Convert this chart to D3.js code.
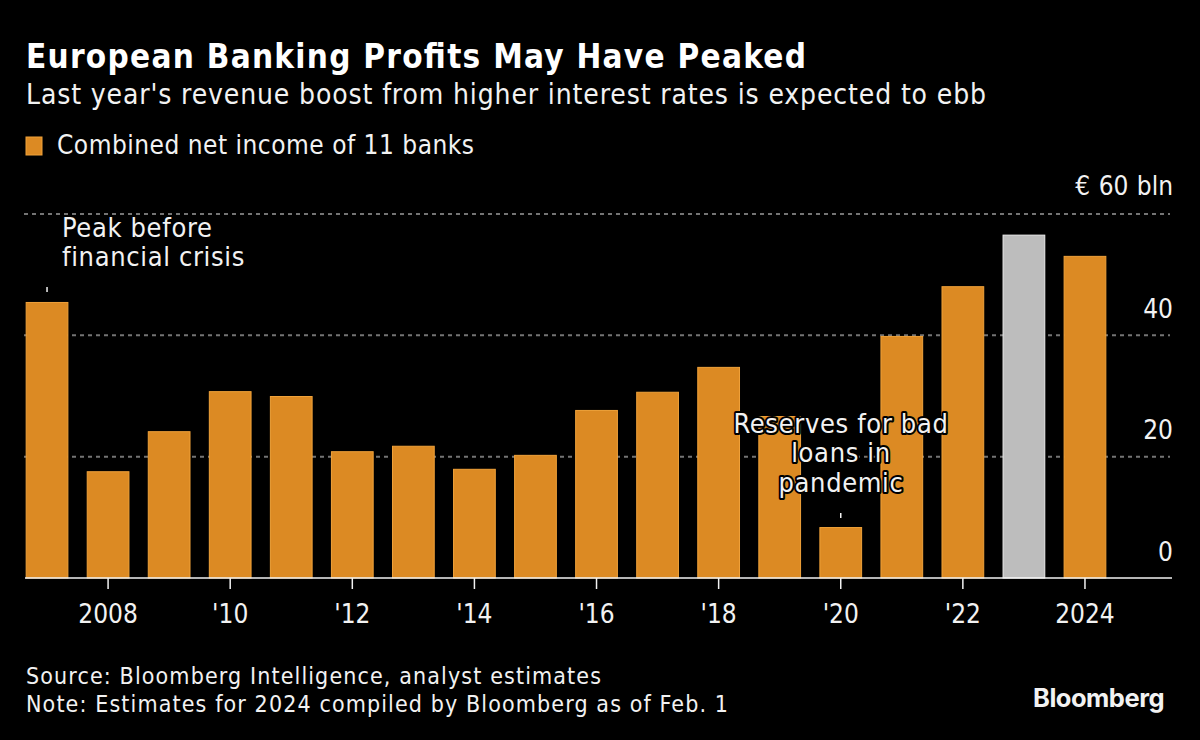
<!DOCTYPE html>
<html>
<head>
<meta charset="utf-8">
<script src="https://cdn.jsdelivr.net/npm/d3@7"></script>
<style>
  html, body { margin: 0; background: #000; }
  text { font-family: "DejaVu Sans Condensed", "DejaVu Sans", sans-serif; font-stretch: condensed; fill: #f2f2f2; }
</style>
</head>
<body>
<div id="chart"></div>
<script>
const years = [2007, 2008, 2009, 2010, 2011, 2012, 2013, 2014, 2015, 2016, 2017, 2018, 2019, 2020, 2021, 2022, 2023, 2024];
const netIncome = [45.5, 17.6, 24.2, 30.8, 30, 20.9, 21.8, 18, 20.3, 27.7, 30.7, 34.8, 26.7, 8.4, 39.9, 48.1, 56.6, 53.1];
const highlightYear = 2023;
const yTicks = [0, 20, 40, 60];
const xTicks = [2008, 2010, 2012, 2014, 2016, 2018, 2020, 2022, 2024];
const xTickLabels = ['2008', "'10", "'12", "'14", "'16", "'18", "'20", "'22", '2024'];

const width = 1200, height = 740;
const svg = d3.select('#chart').append('svg')
    .attr('width', width).attr('height', height)
    .style('display', 'block');

const x = d3.scaleBand().domain(years).range([16.5, 1115.5]).paddingInner(0.3).paddingOuter(0.15);
const y = d3.scaleLinear().domain([0, 60]).range([578, 214]);
const plotRight = 1172;

// gridlines
svg.append('g').selectAll('line').data(yTicks.slice(1)).enter()
    .append('line')
    .attr('x1', 24).attr('x2', 1170)
    .attr('y1', d => y(d)).attr('y2', d => y(d))
    .attr('stroke', '#747474').attr('stroke-width', 2)
    .attr('stroke-dasharray', '4 4');

// bars
svg.append('g').selectAll('rect').data(years).enter()
    .append('rect')
    .attr('x', d => x(d) + 0.5)
    .attr('width', x.bandwidth() - 1)
    .attr('y', (d, i) => y(netIncome[i]) + 0.5)
    .attr('height', (d, i) => y(0) - y(netIncome[i]) - 0.5)
    .attr('fill', d => d === highlightYear ? '#bdbdbd' : '#dc8a23')
    .attr('stroke', d => d === highlightYear ? '#ececec' : '#f0a23a')
    .attr('stroke-width', 1);

// baseline + x ticks
svg.append('line').attr('x1', 25).attr('x2', plotRight)
    .attr('y1', y(0)).attr('y2', y(0))
    .attr('stroke', '#f2f2f2').attr('stroke-width', 1.5);

const center = d => x(d) + x.bandwidth() / 2;
svg.append('g').selectAll('line').data(xTicks).enter()
    .append('line')
    .attr('x1', center).attr('x2', center)
    .attr('y1', y(0)).attr('y2', y(0) + 11)
    .attr('stroke', '#f2f2f2').attr('stroke-width', 1.5);

svg.append('g').selectAll('text').data(xTicks).enter()
    .append('text')
    .attr('x', center).attr('y', 623)
    .attr('text-anchor', 'middle')
    .attr('font-size', 26)
    .text((d, i) => xTickLabels[i]);

// y labels
svg.append('g').selectAll('text').data(yTicks.slice(0, 3)).enter()
    .append('text')
    .attr('x', 1173).attr('y', d => y(d) - 17.5)
    .attr('text-anchor', 'end')
    .attr('font-size', 26)
    .text(d => d);
svg.append('text').attr('x', 1173).attr('y', 195)
    .attr('text-anchor', 'end').attr('font-size', 26)
    .attr('word-spacing', 1)
    .text('€ 60 bln');

// titles
svg.append('text').attr('x', 26).attr('y', 68)
    .attr('font-size', 33).attr('font-weight', 700)
    .attr('textLength', 780)
    .style('fill', '#fff')
    .text('European Banking Profits May Have Peaked');
svg.append('text').attr('x', 26).attr('y', 104)
    .attr('font-size', 28)
    .attr('textLength', 960)
    .text("Last year's revenue boost from higher interest rates is expected to ebb");

// legend
svg.append('rect').attr('x', 26).attr('y', 137).attr('width', 16).attr('height', 18)
    .attr('fill', '#dc8a23').attr('stroke', '#f0a23a');
svg.append('text').attr('x', 57).attr('y', 154)
    .attr('font-size', 26)
    .attr('textLength', 417)
    .text('Combined net income of 11 banks');

// annotations
function note(lines, ax, ay, anchor, halo) {
    const t = svg.append('text').attr('text-anchor', anchor)
        .attr('font-size', 27).attr('letter-spacing', 0.65);
    if (halo) {
        t.style('paint-order', 'stroke').attr('stroke', '#000').attr('stroke-width', 4)
            .attr('stroke-linejoin', 'round');
    }
    lines.forEach((line, i) => {
        t.append('tspan').attr('x', ax).attr('y', ay + i * 29.3).text(line);
    });
}
note(['Peak before', 'financial crisis'], 62, 237, 'start', false);
note(['Reserves for bad', 'loans in', 'pandemic'], 841, 433, 'middle', true);

// annotation leader ticks
const leaders = [[2007, 287, 292], [2020, 513, 518]];
svg.append('g').selectAll('line').data(leaders).enter()
    .append('line')
    .attr('x1', d => center(d[0])).attr('x2', d => center(d[0]))
    .attr('y1', d => d[1]).attr('y2', d => d[2])
    .attr('stroke', '#f2f2f2').attr('stroke-width', 1.5);

// footer
svg.append('text').attr('x', 26).attr('y', 684).attr('font-size', 23)
    .attr('textLength', 575)
    .text('Source: Bloomberg Intelligence, analyst estimates');
svg.append('text').attr('x', 26).attr('y', 712).attr('font-size', 23)
    .attr('textLength', 702)
    .text('Note: Estimates for 2024 compiled by Bloomberg as of Feb. 1');
svg.append('text').attr('x', 1164).attr('y', 707).attr('text-anchor', 'end')
    .attr('font-size', 25.5).attr('font-weight', 700).attr('letter-spacing', -0.5)
    .style('font-family', 'Inter, sans-serif').style('font-stretch', 'normal')
    .text('Bloomberg');
</script>
</body>
</html>
